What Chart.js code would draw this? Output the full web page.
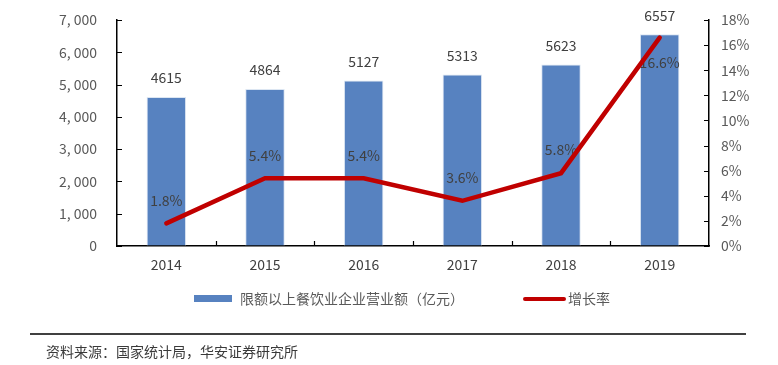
<!DOCTYPE html>
<html>
<head>
<meta charset="utf-8">
<script src="https://cdn.jsdelivr.net/npm/chart.js@4"></script>
<style>
  html, body { margin: 0; padding: 0; background: #fff; }
  #wrap { position: relative; width: 778px; height: 365px; }
</style>
</head>
<body>
<div id="wrap"><canvas id="chart" width="778" height="365"></canvas></div>
<script>
const years = ['2014', '2015', '2016', '2017', '2018', '2019'];
const revenue = [4615, 4864, 5127, 5313, 5623, 6557];
const growth = [1.8, 5.4, 5.4, 3.6, 5.8, 16.6];
const revenueLabel = '限额以上餐饮业企业营业额（亿元）';
const growthLabel = '增长率';
const sourceText = '资料来源：国家统计局，华安证券研究所';

const FONT = '"Noto Sans CJK SC", "Noto Sans", sans-serif';
const BLUE = '#5782C0';
const RED = '#C00000';

// labels for bars and line, drawn after the bars so the line sits on top
const labelPlugin = {
    id: 'labels',
    afterDatasetDraw(chart, args) {
        if (args.index !== 0) return;
        const ctx = chart.ctx;
        const barMeta = chart.getDatasetMeta(0);
        const yR = chart.scales.y1;
        ctx.save();
        ctx.font = '14px ' + FONT;
        ctx.fillStyle = '#404040';
        ctx.textAlign = 'center';
        ctx.textBaseline = 'middle';
        barMeta.data.forEach((bar, i) => {
            ctx.fillText(String(revenue[i]), bar.x, bar.y - 19);
        });
        barMeta.data.forEach((bar, i) => {
            const py = yR.getPixelForValue(growth[i]);
            const off = i === growth.length - 1 ? 25 : -23;
            ctx.fillText(growth[i].toFixed(1) + '%', bar.x, py + off);
        });
        ctx.restore();
    },
    afterDraw(chart) {
        const ctx = chart.ctx;
        const area = chart.chartArea;
        const { x, y, y1 } = chart.scales;
        ctx.save();
        // inward tick marks on all three axes
        ctx.strokeStyle = '#000';
        ctx.lineWidth = 1.2;
        ctx.beginPath();
        y.ticks.forEach((t, i) => {
            const py = Math.round(y.getPixelForTick(i)) + 0.5;
            ctx.moveTo(area.left, py);
            ctx.lineTo(area.left + 5, py);
        });
        y1.ticks.forEach((t, i) => {
            const py = Math.round(y1.getPixelForTick(i)) + 0.5;
            ctx.moveTo(area.right, py);
            ctx.lineTo(area.right - 5, py);
        });
        const step = (area.right - area.left) / years.length;
        for (let i = 1; i < years.length; i++) {
            const px = Math.round(area.left + step * i) + 0.5;
            ctx.moveTo(px, area.bottom);
            ctx.lineTo(px, area.bottom - 5);
        }
        ctx.stroke();

        ctx.font = '14px ' + FONT;
        ctx.textBaseline = 'middle';
        ctx.textAlign = 'left';
        // legend
        ctx.fillStyle = BLUE;
        ctx.fillRect(194, 295, 38, 7);
        ctx.fillStyle = '#595959';
        ctx.fillText(revenueLabel, 240, 299);
        ctx.strokeStyle = RED;
        ctx.lineWidth = 4;
        ctx.lineCap = 'round';
        ctx.beginPath();
        ctx.moveTo(525, 299);
        ctx.lineTo(564, 299);
        ctx.stroke();
        ctx.fillText(growthLabel, 568, 299);
        // source
        ctx.strokeStyle = '#000';
        ctx.lineWidth = 1.5;
        ctx.lineCap = 'butt';
        ctx.beginPath();
        ctx.moveTo(30, 334);
        ctx.lineTo(746, 334);
        ctx.stroke();
        ctx.fillStyle = '#3a3a3a';
        ctx.fillText(sourceText, 46, 352);
        ctx.restore();
    }
};

new Chart(document.getElementById('chart'), {
    type: 'bar',
    data: {
        labels: years,
        datasets: [{
            type: 'bar',
            label: revenueLabel,
            data: revenue,
            backgroundColor: BLUE,
            borderColor: '#DCE6F2',
            borderWidth: 1,
            barPercentage: 0.4,
            categoryPercentage: 1,
            yAxisID: 'y',
            order: 1
        }, {
            type: 'line',
            label: growthLabel,
            data: growth,
            borderColor: RED,
            borderWidth: 4.5,
            borderCapStyle: 'round',
            pointRadius: 0,
            tension: 0,
            yAxisID: 'y1',
            order: 0
        }]
    },
    options: {
        responsive: false,
        animation: false,
        layout: { padding: { top: 20, left: 0, right: 0, bottom: 0 } },
        plugins: {
            legend: { display: false },
            tooltip: { enabled: false }
        },
        scales: {
            x: {
                offset: true,
                grid: { offset: true, drawOnChartArea: false, drawTicks: false },
                border: { color: '#000', width: 1.5 },
                ticks: { color: '#404040', font: { family: FONT, size: 14 }, padding: 10 },
                afterFit(s) { s.height = 119; }
            },
            y: {
                position: 'left',
                min: 0,
                max: 7000,
                grid: { drawOnChartArea: false, drawTicks: false },
                border: { color: '#000', width: 1.5 },
                ticks: {
                    stepSize: 1000,
                    color: '#595959',
                    font: { family: FONT, size: 14 },
                    padding: 20,
                    callback: v => v === 0 ? '0' : v.toLocaleString('en-US').replace(',', ', ')
                },
                afterFit(s) { s.width = 117; s.paddingTop = 0; s.paddingBottom = 0; }
            },
            y1: {
                position: 'right',
                min: 0,
                max: 18,
                grid: { drawOnChartArea: false, drawTicks: false },
                border: { color: '#000', width: 1.5 },
                ticks: {
                    stepSize: 2,
                    color: '#595959',
                    font: { family: FONT, size: 14 },
                    padding: 12,
                    callback: v => v + '%'
                },
                afterFit(s) { s.width = 69; s.paddingTop = 0; s.paddingBottom = 0; }
            }
        }
    },
    plugins: [labelPlugin]
});
</script>
</body>
</html>
